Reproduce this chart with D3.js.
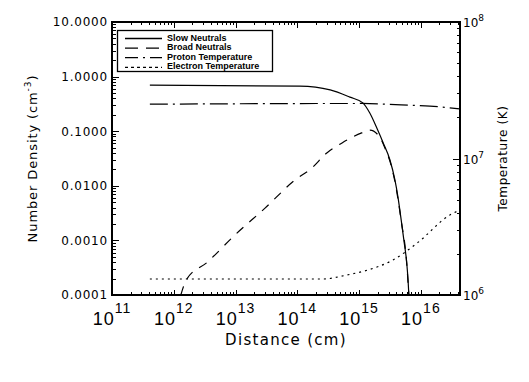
<!DOCTYPE html>
<html>
<head>
<meta charset="utf-8">
<script src="https://cdn.jsdelivr.net/npm/d3@7"></script>
<style>
	body { margin: 0; background: white; }
	#outer { width: 529px; height: 382px; }
	text { font-family: 'DejaVu Sans', sans-serif; fill: black; }
</style>
</head>
<body>
<div id="outer"></div>
<script>

////////// DATA //////////

// distance in cm, density in cm^-3
const slowX = [4.1e11, 1.1e14, 3.4e14, 7.1e14, 1.15e15, 1.49e15, 2.0e15, 2.43e15, 3.16e15, 3.8e15, 4.26e15, 4.8e15, 5.3e15, 5.9e15, 6.2e15, 6.5e15];
const slowN = [0.70, 0.67, 0.57, 0.42, 0.33, 0.215, 0.105, 0.063, 0.0297, 0.0128, 0.0062, 0.00237, 0.00102, 0.00039, 0.00019, 0.00007];

const broadX = [1.3e12, 1.6e12, 3.5e12, 9.8e12, 3.0e13, 9.2e13, 1.7e14, 3.0e14, 5.3e14, 1.1e15, 1.5e15, 2.2e15, 2.7e15, 3.16e15, 3.8e15, 4.8e15, 5.9e15, 6.5e15];
const broadN = [0.0001, 0.00019, 0.0004, 0.00126, 0.0039, 0.0128, 0.021, 0.040, 0.061, 0.093, 0.105, 0.075, 0.045, 0.028, 0.012, 0.0023, 0.00038, 0.00007];

// temperatures in K
const protonX = [4.1e11, 1.1e15, 4.8e15, 1.4e16, 4.3e16];
const protonT = [2.5e7, 2.53e7, 2.47e7, 2.42e7, 2.31e7];

const electronX = [4.1e11, 2.6e14, 6.3e14, 1.35e15, 3.5e15, 8.7e15, 2.96e16, 4.3e16];
const electronT = [1.31e6, 1.31e6, 1.40e6, 1.52e6, 1.80e6, 2.40e6, 3.86e6, 4.2e6];

// ticks
const distExponents = [11, 12, 13, 14, 15, 16];
const densityTicks = [10, 1, 0.1, 0.01, 0.001, 0.0001];
const densityLabels = ['10.0000', '1.0000', '0.1000', '0.0100', '0.0010', '0.0001'];
const tempExponents = [6, 7, 8];

const legendNames = ['Slow Neutrals', 'Broad Neutrals', 'Proton Temperature', 'Electron Temperature'];


////////// SIZING //////////
const W = 529, H = 382;
const margin = {top: 22, left: 112, right: 69, bottom: 87};
const plotW = W - margin.left - margin.right;
const plotH = H - margin.top - margin.bottom;

const dashes = {
	solid: null,
	dashed: '9,8',
	dashdot: '18,5,2,5',
	dotted: '2,4'
};


////////// SCALES //////////
const x = d3.scaleLog().domain([1e11, 4.3e16]).range([margin.left, margin.left + plotW]);
const yN = d3.scaleLog().domain([1e-4, 10]).range([margin.top + plotH, margin.top]);
const yT = d3.scaleLog().domain([1e6, 1e8]).range([margin.top + plotH, margin.top]);


////////// SVG //////////
const svg = d3.select('#outer').append('svg')
	.attr('width', W)
	.attr('height', H);

svg.append('defs').append('clipPath').attr('id', 'plotClip')
	.append('rect')
	.attr('x', margin.left).attr('y', margin.top)
	.attr('width', plotW).attr('height', plotH);

// minor ticks for a log axis
function logTicks(lo, hi) {
	const out = [];
	for (let e = lo; e < hi; e++) {
		for (let m = 1; m < 10; m++) out.push({v: m * Math.pow(10, e), major: m === 1});
	}
	out.push({v: Math.pow(10, hi), major: true});
	return out;
}

const axisG = svg.append('g').attr('class', 'axes').attr('shape-rendering', 'crispEdges');

// frame
axisG.append('rect')
	.attr('x', margin.left).attr('y', margin.top)
	.attr('width', plotW).attr('height', plotH)
	.attr('fill', 'none').attr('stroke', 'black').attr('stroke-width', 1.3);

// x ticks bottom + top
const xTicks = logTicks(11, 17).filter(t => t.v <= 4.3e16);
const xLen = 5.5;
xTicks.forEach(t => {
	const len = t.major ? xLen : xLen / 2;
	const px = Math.round(x(t.v)) + 0.5;
	axisG.append('line')
		.attr('x1', px).attr('x2', px)
		.attr('y1', margin.top + plotH).attr('y2', margin.top + plotH - len)
		.attr('stroke', 'black');
	axisG.append('line')
		.attr('x1', px).attr('x2', px)
		.attr('y1', margin.top).attr('y2', margin.top + len)
		.attr('stroke', 'black');
});

// left density ticks
const yLen = 7;
logTicks(-4, 1).forEach(t => {
	const len = t.major ? yLen : yLen / 2;
	const py = Math.round(yN(t.v)) + 0.5;
	axisG.append('line')
		.attr('x1', margin.left).attr('x2', margin.left + len)
		.attr('y1', py).attr('y2', py)
		.attr('stroke', 'black');
});

// right temperature ticks
logTicks(6, 8).forEach(t => {
	const len = t.major ? yLen : yLen / 2;
	const py = Math.round(yT(t.v)) + 0.5;
	axisG.append('line')
		.attr('x1', margin.left + plotW).attr('x2', margin.left + plotW - len)
		.attr('y1', py).attr('y2', py)
		.attr('stroke', 'black');
});


////////// LABELS //////////
// x labels 10^n
distExponents.forEach(e => {
	const t = svg.append('text')
		.attr('x', x(Math.pow(10, e)))
		.attr('y', 325)
		.attr('text-anchor', 'middle')
		.style('font-family', "'Liberation Sans', sans-serif")
		.style('font-size', '18px')
		.style('letter-spacing', '1px');
	t.append('tspan').text('10');
	t.append('tspan').attr('dy', -12).style('font-size', '14px').text(e);
});

svg.append('text')
	.attr('x', margin.left + plotW / 2)
	.attr('y', 345)
	.attr('text-anchor', 'middle')
	.style('font-size', '15px')
	.style('letter-spacing', '1.3px')
	.text('Distance (cm)');

// left labels
densityTicks.forEach((v, i) => {
	svg.append('text')
		.attr('x', 108)
		.attr('y', yN(v))
		.attr('dy', '0.36em')
		.attr('text-anchor', 'end')
		.style('font-size', '12px')
		.style('letter-spacing', '0.8px')
		.text(densityLabels[i]);
});

const yTitle = svg.append('text')
	.attr('transform', `translate(37, ${margin.top + plotH / 2}) rotate(-90)`)
	.attr('text-anchor', 'middle')
	.style('font-size', '13px')
	.style('letter-spacing', '0.9px');
yTitle.append('tspan').text('Number Density (cm');
yTitle.append('tspan').attr('dy', -6).style('font-size', '9px').text('-3');
yTitle.append('tspan').attr('dy', 6).text(')');

// right labels
tempExponents.forEach(e => {
	const t = svg.append('text')
		.attr('x', margin.left + plotW + 3)
		.attr('y', yT(Math.pow(10, e)) + 5)
		.style('font-size', '12px');
	t.append('tspan').text('10');
	t.append('tspan').attr('dy', -6).style('font-size', '9px').text(e);
});

svg.append('text')
	.attr('transform', `translate(507, ${margin.top + plotH / 2}) rotate(-90)`)
	.attr('text-anchor', 'middle')
	.style('font-size', '12px')
	.style('letter-spacing', '0.6px')
	.text('Temperature (K)');


////////// CURVES //////////
const curveG = svg.append('g').attr('clip-path', 'url(#plotClip)');

function drawCurve(xs, ys, yScale, dash) {
	const pts = xs.map((d, i) => [x(d), yScale(ys[i])]);
	curveG.append('path')
		.attr('d', d3.line().curve(d3.curveMonotoneX)(pts))
		.attr('fill', 'none')
		.attr('stroke', 'black')
		.attr('stroke-width', 1.2)
		.attr('stroke-dasharray', dash);
}

drawCurve(slowX, slowN, yN, dashes.solid);
drawCurve(broadX, broadN, yN, dashes.dashed);
drawCurve(protonX, protonT, yT, dashes.dashdot);
drawCurve(electronX, electronT, yT, dashes.dotted);


////////// LEGEND //////////
const legend = svg.append('g').attr('class', 'legend');
legend.append('rect')
	.attr('x', 117.5).attr('y', 30.5)
	.attr('width', 155).attr('height', 41)
	.attr('fill', 'white').attr('stroke', 'black').attr('stroke-width', 1.3);

const legendDash = [dashes.solid, '13,8', '13,5,2,5', '3,3'];
legendNames.forEach((name, i) => {
	const ly = 38.5 + i * 9.6;
	legend.append('line')
		.attr('x1', 125).attr('x2', 162)
		.attr('y1', ly).attr('y2', ly)
		.attr('stroke', 'black').attr('stroke-width', 1.3)
		.attr('stroke-dasharray', legendDash[i]);
	legend.append('text')
		.attr('x', 167).attr('y', ly + 2)
		.style('font-family', "'Liberation Sans', sans-serif")
		.style('font-size', '9px')
		.style('font-weight', 'bold')
		.text(name);
});

</script>
</body>
</html>
